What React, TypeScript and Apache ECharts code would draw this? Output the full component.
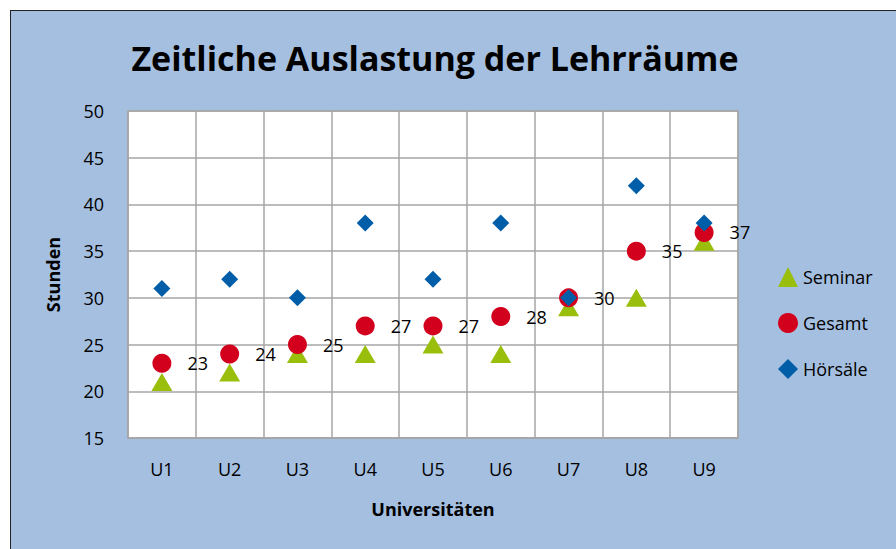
import React, { useEffect, useRef } from "react";
import * as echarts from "echarts";

const categories = ["U1", "U2", "U3", "U4", "U5", "U6", "U7", "U8", "U9"];
const seminar = [21, 22, 24, 24, 25, 24, 29, 30, 36];
const gesamt = [23, 24, 25, 27, 27, 28, 30, 35, 37];
const hoersaele = [31, 32, 30, 38, 32, 38, 30, 42, 38];
const yMin = 15;
const yMax = 50;
const yInterval = 5;

const FONT = "'Open Sans', 'Noto Sans', sans-serif";

export default function App() {
  const ref = useRef<HTMLDivElement>(null);
  useEffect(() => {
    if (!ref.current) return;
    const chart = echarts.init(ref.current, null, { renderer: "svg" });
    chart.setOption({
      animation: false,
      backgroundColor: "#a5bfe0",
      textStyle: { fontFamily: FONT, color: "#000" },
      title: {
        text: "Zeitliche Auslastung der Lehrräume",
        left: 419,
        textAlign: "center",
        top: 25,
        textStyle: { fontSize: 34, fontWeight: "bold", color: "#000", fontFamily: FONT },
      },
      legend: {
        orient: "vertical",
        left: 762,
        top: 251,
        itemWidth: 20,
        itemHeight: 20,
        itemGap: 26,
        textStyle: { fontSize: 18, color: "#000", fontFamily: FONT },
        data: ["Seminar", "Gesamt", "Hörsäle"],
      },
      grid: { left: 117, top: 100, width: 610, height: 327, show: true, backgroundColor: "#fff", borderColor: "#a6a6a6", borderWidth: 1.5 },
      xAxis: {
        type: "category",
        data: categories,
        boundaryGap: true,
        name: "Universitäten",
        nameLocation: "middle",
        nameGap: 62,
        nameTextStyle: { fontSize: 18, fontWeight: "bold", color: "#000", fontFamily: FONT },
        axisLine: { show: true, lineStyle: { color: "#a6a6a6", width: 1.5 } },
        axisTick: { show: false },
        axisLabel: { fontSize: 18, color: "#000", margin: 22, fontFamily: FONT },
        splitLine: { show: true, lineStyle: { color: "#a6a6a6", width: 1.5 } },
      },
      yAxis: {
        type: "value",
        min: yMin,
        max: yMax,
        interval: yInterval,
        name: "Stunden",
        nameLocation: "middle",
        nameGap: 66,
        nameTextStyle: { fontSize: 18, fontWeight: "bold", color: "#000", fontFamily: FONT },
        axisLine: { show: false },
        axisTick: { show: false },
        axisLabel: { fontSize: 18, color: "#000", margin: 24, fontFamily: FONT },
        splitLine: { show: true, lineStyle: { color: "#a6a6a6", width: 1.5 } },
      },
      series: [
        {
          name: "Seminar",
          type: "scatter",
          data: seminar,
          symbol: "triangle",
          symbolSize: [21, 18],
          itemStyle: { color: "#99bf0c", opacity: 1 },
          z: 2,
        },
        {
          name: "Gesamt",
          type: "scatter",
          data: gesamt,
          symbol: "circle",
          symbolSize: 19,
          itemStyle: { color: "#d3001d", opacity: 1 },
          label: { show: true, position: "right", distance: 16, fontSize: 18, color: "#000", fontFamily: FONT },
          z: 3,
        },
        {
          name: "Hörsäle",
          type: "scatter",
          data: hoersaele,
          symbol: "diamond",
          symbolSize: [17, 17],
          itemStyle: { color: "#005ea8", opacity: 1 },
          z: 4,
        },
      ],
    });
    return () => chart.dispose();
  }, []);
  return (
    <div
      style={{
        position: "fixed",
        left: 10,
        top: 10,
        width: 886,
        height: 539,
        borderTop: "1px solid #222",
        borderLeft: "1px solid #222",
        boxSizing: "border-box",
        background: "#a5bfe0",
      }}
    >
      <div ref={ref} style={{ width: 885, height: 538 }} />
    </div>
  );
}
